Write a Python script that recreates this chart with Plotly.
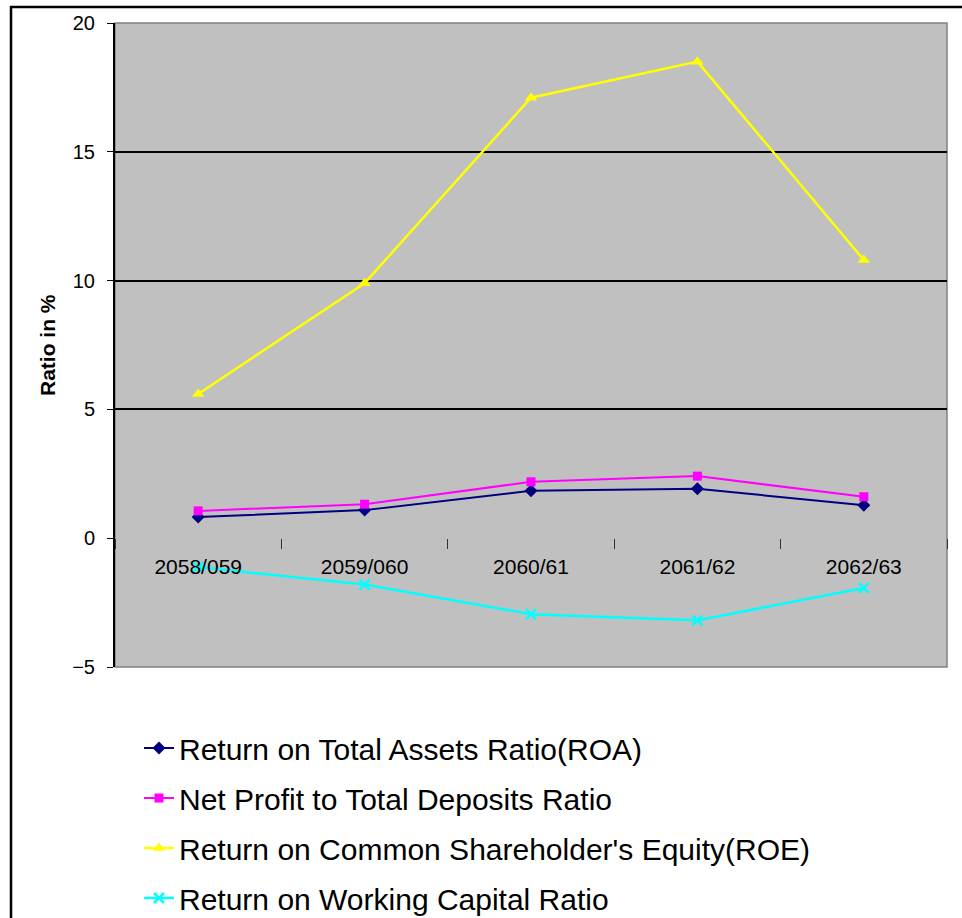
import plotly.graph_objects as go

categories = ["2058/059", "2059/060", "2060/61", "2061/62", "2062/63"]
roa = [0.82, 1.09, 1.84, 1.92, 1.28]
net_profit_deposits = [1.06, 1.32, 2.19, 2.41, 1.61]
roe = [5.6, 9.9, 17.1, 18.5, 10.8]
working_capital = [-1.12, -1.8, -2.95, -3.19, -1.93]

series_names = [
    "Return on Total Assets Ratio(ROA)",
    "Net Profit to Total Deposits Ratio",
    "Return on Common Shareholder's Equity(ROE)",
    "Return on Working Capital Ratio",
]
y_ticks = [-5, 0, 5, 10, 15, 20]
grid_vals = [5, 10, 15]

W, H = 962, 918
L, R, T, B = 115, 15, 23, 251
pw, ph = W - L - R, H - T - B

def px_x(p):
    return (p - L) / pw

def px_y(p):
    return (H - B - p) / ph

fig = go.Figure()

styles = [
    dict(color="#000080", symbol="diamond", size=10, lw=2),
    dict(color="#FF00FF", symbol="square", size=9, lw=2),
    dict(color="#FFFF00", symbol="triangle-up", size=11, lw=2.5),
    dict(color="#00FFFF", symbol="x-thin", size=10, lw=2.5),
]
data = [roa, net_profit_deposits, roe, working_capital]

for i, (name, vals, st) in enumerate(zip(series_names, data, styles)):
    marker = dict(color=st["color"], symbol=st["symbol"], size=st["size"])
    if st["symbol"] == "x-thin":
        marker["line"] = dict(color=st["color"], width=2.5)
    fig.add_trace(go.Scatter(
        x=categories, y=vals, name=name, mode="lines+markers",
        line=dict(color=st["color"], width=st["lw"]),
        marker=marker, legendgroup=f"g{i}",
    ))

# helper invisible trace for the gridline axis
fig.add_trace(go.Scatter(x=categories, y=[None] * len(categories), yaxis="y2",
                         showlegend=False, hoverinfo="skip"))

font_family = "Liberation Sans, Arial, sans-serif"

fig.update_layout(
    width=W, height=H,
    margin=dict(l=L, r=R, t=T, b=B, autoexpand=False),
    paper_bgcolor="white",
    plot_bgcolor="#C0C0C0",
    font=dict(family=font_family, color="black"),
    showlegend=True,
    legend=dict(
        x=139 / W, y=(H - 722) / H, xref="container", yref="container",
        xanchor="left", yanchor="top",
        font=dict(size=30, family=font_family, color="black"),
        tracegroupgap=8, bgcolor="rgba(0,0,0,0)", itemwidth=30,
    ),
    xaxis=dict(
        type="category", range=[-0.5, 4.5],
        anchor="free", position=(0 - y_ticks[0]) / (y_ticks[-1] - y_ticks[0]),
        showline=False, showgrid=False, zeroline=False,
        ticks="outside", tickson="boundaries", ticklen=10, tickcolor="#333333",
        tickfont=dict(size=21, family=font_family, color="black"),
        ticklabelstandoff=14,
    ),
    yaxis=dict(
        range=[y_ticks[0], y_ticks[-1]], tickvals=y_ticks,
        showgrid=False, zeroline=False,
        showline=True, linecolor="black", linewidth=2,
        ticks="outside", ticklen=6, tickcolor="black",
        tickfont=dict(size=20, family=font_family, color="black"),
        ticklabelstandoff=8,
    ),
    yaxis2=dict(
        overlaying="y", matches="y", tickvals=grid_vals,
        showgrid=True, gridcolor="black", gridwidth=1.5,
        showticklabels=False, zeroline=False, showline=False, ticks="",
    ),
    shapes=[
        dict(type="rect", xref="paper", yref="paper", x0=0, x1=1, y0=0, y1=1,
             line=dict(color="#808080", width=1.5), layer="below"),
        # outer frame: top and left edges (the rest lies outside the picture)
        dict(type="line", xref="paper", yref="paper",
             x0=px_x(10), x1=px_x(962), y0=px_y(7), y1=px_y(7),
             line=dict(color="black", width=2.5), layer="above"),
        dict(type="line", xref="paper", yref="paper",
             x0=px_x(11), x1=px_x(11), y0=px_y(6), y1=px_y(918),
             line=dict(color="black", width=2.5), layer="above"),
    ],
    annotations=[
        dict(text="<b>Ratio in %</b>", xref="paper", yref="paper",
             x=px_x(47), y=0.5, textangle=-90, showarrow=False,
             font=dict(size=21, family=font_family, color="black"),
             xanchor="center", yanchor="middle"),
    ],
)

fig.write_html(
    "out.html",
    config={"displayModeBar": False},
    post_script="document.body.style.margin='0';document.body.style.overflow='hidden';",
)
